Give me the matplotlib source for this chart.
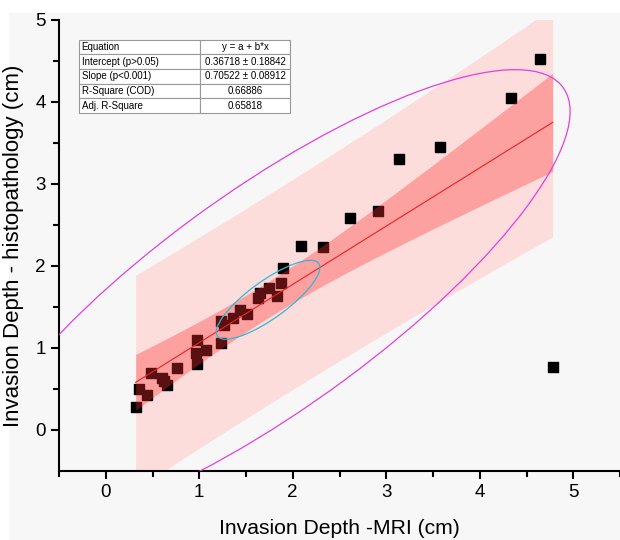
import numpy as np
import matplotlib.pyplot as plt
from matplotlib.patches import Ellipse, Rectangle

# values
mri = [0.32, 0.36, 0.44, 0.48, 0.60, 0.62, 0.65, 0.76, 0.96, 0.98, 0.98, 1.07,
       1.23, 1.23, 1.27, 1.36, 1.44, 1.51, 1.63, 1.65, 1.75, 1.83, 1.87, 1.90,
       2.09, 2.32, 2.61, 2.91, 3.14, 3.58, 4.33, 4.64, 4.78]
histo = [0.28, 0.50, 0.43, 0.70, 0.63, 0.60, 0.55, 0.76, 0.94, 1.10, 0.81, 0.97,
         1.06, 1.33, 1.28, 1.36, 1.46, 1.42, 1.61, 1.67, 1.73, 1.63, 1.79, 1.97,
         2.25, 2.23, 2.58, 2.67, 3.31, 3.45, 4.05, 4.52, 0.77]

table_rows = [["Equation", "y = a + b*x"],
              ["Intercept (p>0.05)", "0.36718 \u00b1 0.18842"],
              ["Slope (p<0.001)", "0.70522 \u00b1 0.08912"],
              ["R-Square (COD)", "0.66886"],
              ["Adj. R-Square", "0.65818"]]

plt.rcParams['font.family'] = ['Liberation Sans', 'DejaVu Sans']

x = np.array(mri)
y = np.array(histo)
n = len(x)
b, a = np.polyfit(x, y, 1)
resid = y - (a + b * x)
s = np.sqrt(np.sum(resid ** 2) / (n - 2))
xbar = x.mean()
sxx = np.sum((x - xbar) ** 2)
t = 2.04  # t(0.975, n-2)

xs = np.linspace(x.min(), x.max(), 200)
yfit = a + b * xs
conf = t * s * np.sqrt(1 / n + (xs - xbar) ** 2 / sxx)
pred = t * s * np.sqrt(1 + 1 / n + (xs - xbar) ** 2 / sxx)

fig = plt.figure(figsize=(6.2, 5.4), dpi=100, facecolor='white')
fig.patches.append(Rectangle((9 / 620, 0), 1, 1 - 13 / 540, transform=fig.transFigure,
                             color='#f7f7f7', zorder=-10))
ax = fig.add_axes([59 / 620, 1 - 471 / 540, 561 / 620, 451 / 540])
ax.set_facecolor('#f7f7f7')

ax.fill_between(xs, yfit - pred, yfit + pred, color='#fddcdc', lw=0, zorder=1)
ax.scatter(x, y, marker='s', s=52, color='black', zorder=2)
ax.fill_between(xs, yfit - conf, yfit + conf, color='#ff3030', alpha=0.35, lw=0, zorder=3)
ax.plot(xs, yfit, color='#ee2020', lw=0.8, zorder=4)

# confidence ellipses (population and mean)
cov = np.cov(x, y)
vals, vecs = np.linalg.eigh(cov)
angle = np.degrees(np.arctan2(vecs[1, 1], vecs[0, 1]))
F = 3.305  # F(0.95; 2, n-2)
k_pop = np.sqrt(2 * (n - 1) * (n + 1) / (n * (n - 2)) * F)
k_mean = np.sqrt(2 * (n - 1) / (n * (n - 2)) * F)
for k, c in [(k_pop, '#e040e0'), (k_mean, '#30b8d8')]:
    ax.add_patch(Ellipse((xbar, y.mean()), 2 * k * np.sqrt(vals[1]), 2 * k * np.sqrt(vals[0]),
                         angle=angle, fill=False, ec=c, lw=0.9, zorder=5))

ax.set_xlim(-0.5, 5.5)
ax.set_ylim(-0.5, 5)
ax.set_xticks(range(0, 6))
ax.set_yticks(range(0, 6))
ax.set_xticks(np.arange(-0.5, 5.6, 1), minor=True)
ax.set_yticks(np.arange(0.5, 5, 1), minor=True)
ax.tick_params(which='major', direction='out', length=6, width=1.5, labelsize=13.5)
ax.tick_params(which='minor', direction='out', length=4, width=1.5)
for side in ['top', 'right']:
    ax.spines[side].set_visible(False)
for side in ['left', 'bottom']:
    ax.spines[side].set_linewidth(1.5)
ax.set_xlabel('Invasion Depth -MRI (cm)', fontsize=15.2, labelpad=13)
ax.set_ylabel('Invasion Depth - histopathology (cm)', fontsize=16, labelpad=8)

tbl = ax.table(cellText=table_rows, colWidths=[0.574, 0.426], bbox=[0.036, 0.794, 0.376, 0.162],
               zorder=6)
tbl.auto_set_font_size(False)
for (r, c), cell in tbl.get_celld().items():
    cell.set_fontsize(7)
    cell.set_edgecolor('#999999')
    cell.set_linewidth(0.8)
    cell.set_facecolor('white')
    cell.get_text().set_ha('left' if c == 0 else 'center')
    if c == 0:
        cell.PAD = 0.02

fig.savefig('out.png', dpi=100, facecolor=fig.get_facecolor())
